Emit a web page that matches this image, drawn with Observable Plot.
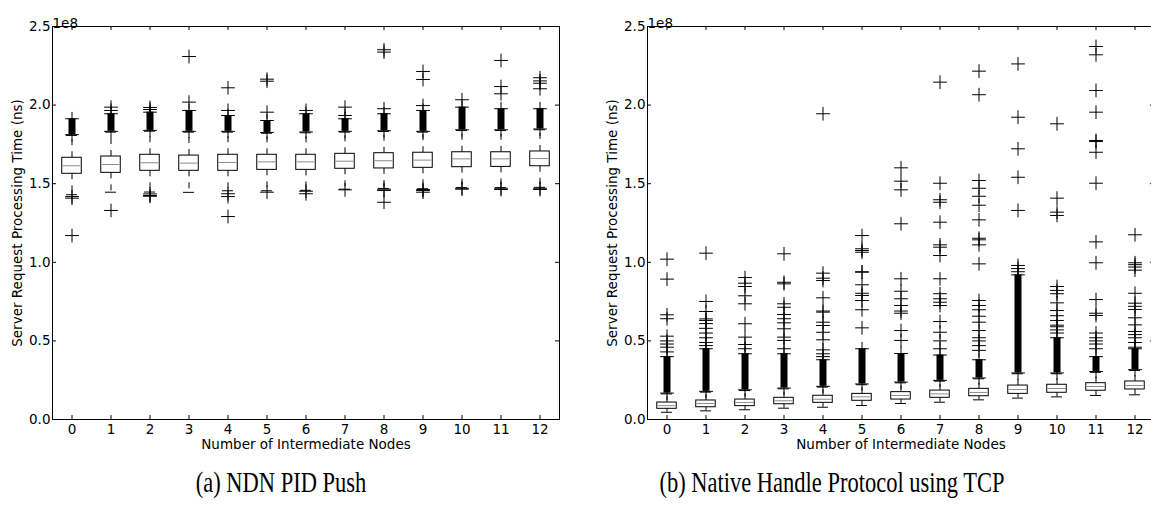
<!DOCTYPE html>
<html><head><meta charset="utf-8">
<script src="https://cdn.jsdelivr.net/npm/d3@7"></script>
<script src="https://cdn.jsdelivr.net/npm/@observablehq/plot@0.6"></script>
<style>
html,body{margin:0;padding:0;background:#fff;}
#page{position:relative;width:1151px;height:508px;overflow:hidden;background:#fff;}
.panel{position:absolute;top:0;width:575px;height:460px;}
.panel svg{max-width:none !important;width:575px;height:460px;}
.caption{position:absolute;top:472px;font-family:"Liberation Serif","Times New Roman",serif;font-size:22.5px;line-height:22px;white-space:nowrap;transform:translateX(-50%) scaleY(1.35);transform-origin:center;}
</style></head><body>
<div id="page">
  <div id="pa" class="panel" style="left:0px"></div>
  <div id="pb" class="panel" style="left:595px"></div>
  <div class="caption" style="left:281px">(a) NDN PID Push</div>
  <div class="caption" style="left:832px">(b) Native Handle Protocol using TCP</div>
</div>
<script>
// ---- categories & ticks ----
const nodes = [0,1,2,3,4,5,6,7,8,9,10,11,12];
const yTicks = [0, 0.5, 1.0, 1.5, 2.0, 2.5];           // ×1e8 ns
const xLabel = "Number of Intermediate Nodes";
const yLabel = "Server Request Processing Time (ns)";
const offsetLabel = "1e8";

// ---- (a) NDN PID Push (values ×1e8 ns) ----
const aQ1   = [1.563,1.569,1.582,1.582,1.582,1.588,1.588,1.595,1.597,1.601,1.605,1.607,1.611];
const aMed  = [1.614,1.622,1.633,1.631,1.635,1.639,1.639,1.643,1.646,1.650,1.658,1.658,1.660];
const aQ3   = [1.665,1.673,1.684,1.679,1.684,1.684,1.684,1.690,1.694,1.697,1.700,1.700,1.705];
const aWLo  = [1.430,1.446,1.447,1.445,1.455,1.455,1.458,1.465,1.470,1.468,1.475,1.475,1.477];
const aWHi  = [1.807,1.828,1.834,1.828,1.828,1.821,1.824,1.828,1.832,1.828,1.838,1.838,1.843];
const aDenseHi = [1.913,1.945,1.955,1.966,1.934,1.902,1.945,1.913,1.945,1.966,1.987,1.977,1.977];
const aFliers = [
  [1.418,1.408,1.170],
  [1.330,1.966,1.987],
  [1.435,1.425,1.420,1.972,1.985],
  [2.019,2.309],
  [1.436,1.418,1.291,1.966,2.110],
  [1.446,1.955,2.152,2.165],
  [1.452,1.436,1.966],
  [1.461,1.934,1.987],
  [1.465,1.457,1.382,1.977,2.337,2.352],
  [1.463,1.457,1.446,1.997,2.163,2.214],
  [1.471,1.465,2.034],
  [1.471,1.463,2.072,2.118,2.284],
  [1.471,1.463,2.104,2.139,2.154,2.174]
];

// ---- (b) Native Handle Protocol using TCP (values ×1e8 ns) ----
const bQ1   = [0.068,0.078,0.085,0.097,0.106,0.119,0.127,0.138,0.148,0.163,0.170,0.183,0.191];
const bMed  = [0.088,0.102,0.108,0.119,0.129,0.144,0.153,0.163,0.172,0.191,0.197,0.210,0.216];
const bQ3   = [0.108,0.121,0.127,0.138,0.151,0.163,0.174,0.184,0.195,0.216,0.221,0.231,0.242];
const bWLo  = [0.046,0.055,0.062,0.072,0.078,0.089,0.102,0.110,0.125,0.136,0.144,0.153,0.157];
const bWHi  = [0.163,0.174,0.184,0.195,0.206,0.221,0.233,0.244,0.259,0.291,0.291,0.300,0.312];
const bDenseHi = [0.400,0.450,0.418,0.418,0.380,0.450,0.420,0.410,0.380,0.920,0.520,0.400,0.450];
const bFliers = [
  [0.43,0.46,0.48,0.50,0.53,0.641,0.666,0.893,1.020],
  [0.47,0.49,0.52,0.55,0.58,0.61,0.63,0.64,0.687,0.751,1.058],
  [0.45,0.477,0.524,0.609,0.736,0.787,0.846,0.867,0.903],
  [0.45,0.503,0.524,0.577,0.615,0.641,0.668,0.714,0.736,0.863,0.873,1.054],
  [0.40,0.418,0.443,0.507,0.555,0.598,0.619,0.683,0.69,0.774,0.884,0.899,0.931,1.945],
  [0.583,0.698,0.757,0.789,0.803,0.857,0.937,0.94,1.064,1.075,1.086,1.170],
  [0.503,0.566,0.676,0.69,0.725,0.768,0.816,0.895,1.245,1.461,1.516,1.601],
  [0.45,0.50,0.555,0.623,0.725,0.746,0.768,0.80,0.895,1.043,1.096,1.111,1.255,1.382,1.398,1.503,2.146],
  [0.44,0.47,0.50,0.52,0.566,0.619,0.657,0.698,0.725,0.757,0.990,1.111,1.143,1.153,1.270,1.363,1.420,1.471,1.520,2.066,2.216],
  [0.94,0.96,0.98,1.330,1.541,1.722,1.923,2.262],
  [0.55,0.57,0.59,0.60,0.63,0.66,0.693,0.742,0.80,0.821,0.846,1.298,1.319,1.408,1.881],
  [0.45,0.48,0.50,0.52,0.55,0.662,0.676,0.763,0.997,1.130,1.503,1.700,1.768,1.775,1.955,2.093,2.320,2.373],
  [0.46,0.49,0.52,0.54,0.56,0.602,0.647,0.70,0.72,0.74,0.803,0.95,0.97,0.985,0.997,1.175]
];

const BOX_HALF = 0.25, CAP_HALF = 0.14;
const xDomain = [-0.5, 12.5];

function panel(q1, med, q3, wLo, wHi, denseHi, fliers) {
  const rows = nodes.map((n, i) => ({n, q1: q1[i], med: med[i], q3: q3[i], lo: wLo[i], hi: wHi[i], dLo: wHi[i] + 0.005, dHi: denseHi[i]}));
  const pts = nodes.flatMap((n, i) => fliers[i].map(v => ({n, v})))
    .concat(rows.flatMap(r => [{n: r.n, v: r.dLo}, {n: r.n, v: r.dHi}]));
  const yMin = yTicks[0], yMax = yTicks[yTicks.length - 1];
  return Plot.plot({
    width: 575, height: 460,
    marginLeft: 52, marginRight: 16, marginTop: 26, marginBottom: 41,
    style: {fontFamily: "DejaVu Sans", fontSize: "13.5px", color: "black", background: "white", overflow: "visible", maxWidth: "none"},
    x: {domain: xDomain, ticks: nodes, tickSize: 0, tickPadding: 5, label: null, tickFormat: d => String(d)},
    y: {domain: [yMin, yMax], ticks: yTicks, tickSize: 0, tickPadding: 2, label: null, tickFormat: d3.format(".1f")},
    marks: [
      // whiskers (dashed) and caps
      Plot.ruleX(rows, {x: "n", y1: "q3", y2: "hi", stroke: "black", strokeDasharray: "6,6"}),
      Plot.ruleX(rows, {x: "n", y1: "q1", y2: "lo", stroke: "black", strokeDasharray: "6,6"}),
      Plot.ruleY(rows, {y: "hi", x1: d => d.n - CAP_HALF, x2: d => d.n + CAP_HALF, stroke: "black"}),
      Plot.ruleY(rows, {y: "lo", x1: d => d.n - CAP_HALF, x2: d => d.n + CAP_HALF, stroke: "black"}),
      // boxes and medians
      Plot.rect(rows, {x1: d => d.n - BOX_HALF, x2: d => d.n + BOX_HALF, y1: "q1", y2: "q3", fill: "white", stroke: "black"}),
      Plot.ruleY(rows, {y: "med", x1: d => d.n - BOX_HALF + 0.02, x2: d => d.n + BOX_HALF - 0.02, stroke: "#8c8c8c"}),
      // dense flier columns
      Plot.ruleX(rows, {x: "n", y1: "dLo", y2: "dHi", stroke: "black", strokeWidth: 7}),
      // individual fliers
      Plot.dot(pts, {x: "n", y: "v", symbol: "plus", r: 4.5, stroke: "black", strokeWidth: 1}),
      // frame and inward ticks on all sides
      Plot.frame({stroke: "black"}),
      Plot.ruleX(nodes, {x: d => d, y1: yMin, y2: yMin, insetBottom: 4, stroke: "black"}),
      Plot.ruleX(nodes, {x: d => d, y1: yMax, y2: yMax, insetBottom: -4, stroke: "black"}),
      Plot.ruleY(yTicks, {y: d => d, x1: xDomain[0], x2: xDomain[0], insetRight: -4, stroke: "black"}),
      Plot.ruleY(yTicks, {y: d => d, x1: xDomain[1], x2: xDomain[1], insetRight: 4, stroke: "black"}),
      // labels
      Plot.text([xLabel], {text: d => d, frameAnchor: "bottom", dy: 29, textAnchor: "middle", fontSize: 13.5, fill: "black"}),
      Plot.text([yLabel], {text: d => d, frameAnchor: "left", dx: -35, rotate: -90, textAnchor: "middle", fontSize: 13.5, fill: "black"}),
      Plot.text([offsetLabel], {text: d => d, frameAnchor: "top-left", dy: -8, textAnchor: "start", fontSize: 13.5, fill: "black"})
    ]
  });
}

document.getElementById("pa").appendChild(panel(aQ1, aMed, aQ3, aWLo, aWHi, aDenseHi, aFliers));
document.getElementById("pb").appendChild(panel(bQ1, bMed, bQ3, bWLo, bWHi, bDenseHi, bFliers));
</script>
</body></html>
